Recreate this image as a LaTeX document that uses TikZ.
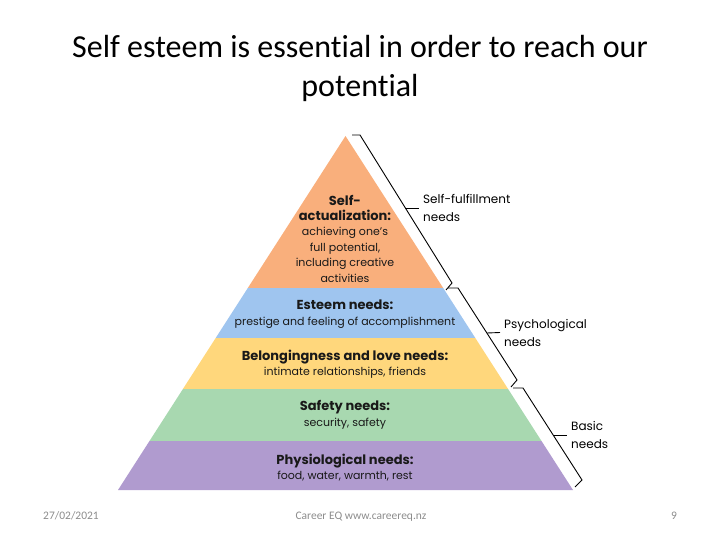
\documentclass[tikz,border=0pt]{standalone}
\usepackage{fontspec}
\setmainfont{Carlito}[Ligatures=NoCommon]
\newfontfamily\pyrfont{Poppins}
\usetikzlibrary{positioning}

\definecolor{selfcol}{HTML}{F9AF7C}
\definecolor{esteemcol}{HTML}{9FC5EF}
\definecolor{belongcol}{HTML}{FFD77C}
\definecolor{safetycol}{HTML}{A8D8B0}
\definecolor{physcol}{HTML}{B09BCF}
\newcommand\tierhead[1]{{\fontsize{13}{15.4}\selectfont\bfseries #1}}

\begin{document}
\begin{tikzpicture}[x=1pt,y=-1pt,
  tier/.style = {align=center, text=black!90, font=\pyrfont\fontsize{11}{15.4}\selectfont},
  side/.style = {anchor=west, align=left, inner sep=4pt, font=\pyrfont\fontsize{12}{18}\selectfont},
  brace/.style = {line width=0.9pt},
  foot/.style = {anchor=base, text=black!45, font=\fontsize{11.5}{13}\selectfont}]
\useasboundingbox (0,0) rectangle (720,540);
\node (title) at (360,68) [align=center, font=\fontsize{32}{39}\selectfont] {Self esteem is essential in order to reach our\\potential};

\coordinate (apex) at (345.5,136);
\coordinate (bl) at (118,490);
\coordinate (br) at (573,490);
\begin{scope}
\clip (apex) -- (bl) -- (br) -- cycle;
\fill[selfcol] (100,130) rectangle (600,288);
\fill[esteemcol] (100,288) rectangle (600,338);
\fill[belongcol] (100,338) rectangle (600,389);
\fill[safetycol] (100,389) rectangle (600,441);
\fill[physcol] (100,441) rectangle (600,491);
\end{scope}

\node[tier] (self) at (345,238.5) {\tierhead{Self-}\\\tierhead{actualization:}\\achieving one’s\\full potential,\\including creative\\activities};
\node[tier] (esteem) at (345,314) {\tierhead{Esteem needs:}\\prestige and feeling of accomplishment};
\node[tier] (belong) at (345,364.5) {\tierhead{Belongingness and love needs:}\\intimate relationships, friends};
\node[tier] (safety) at (345,415) {\tierhead{Safety needs:}\\security, safety};
\node[tier] (phys) at (345,467.5) {\tierhead{Physiological needs:}\\food, water, warmth, rest};

\node[side] (fulfil) at (419,208) {Self-fulfillment\\needs};
\node[side] (psych) at (500,332.5) {Psychological\\needs};
\node[side] (basic) at (567,435) {Basic\\needs};

\draw[brace] (352,135) -- (360,135) -- (452,283) -- (446,290);
\draw[brace] (448,288) -- (458,288) -- (517,380) -- (511,387);
\draw[brace] (513,388) -- (523,388) -- (582,480) -- (575,487);
\coordinate (tick1) at (405,208);
\coordinate (tick2) at (487,333);
\coordinate (tick3) at (553,435);
\draw[brace] (tick1) -- (fulfil.west);
\draw[brace] (tick2) -- (psych.west);
\draw[brace] (tick3) -- (basic.west);

\node[foot] (date) at (71,519) {27/02/2021};
\node[foot] (site) at (361,519) {Career EQ www.careereq.nz};
\node[foot] (page) at (674,519) {9};
\end{tikzpicture}
\end{document}
